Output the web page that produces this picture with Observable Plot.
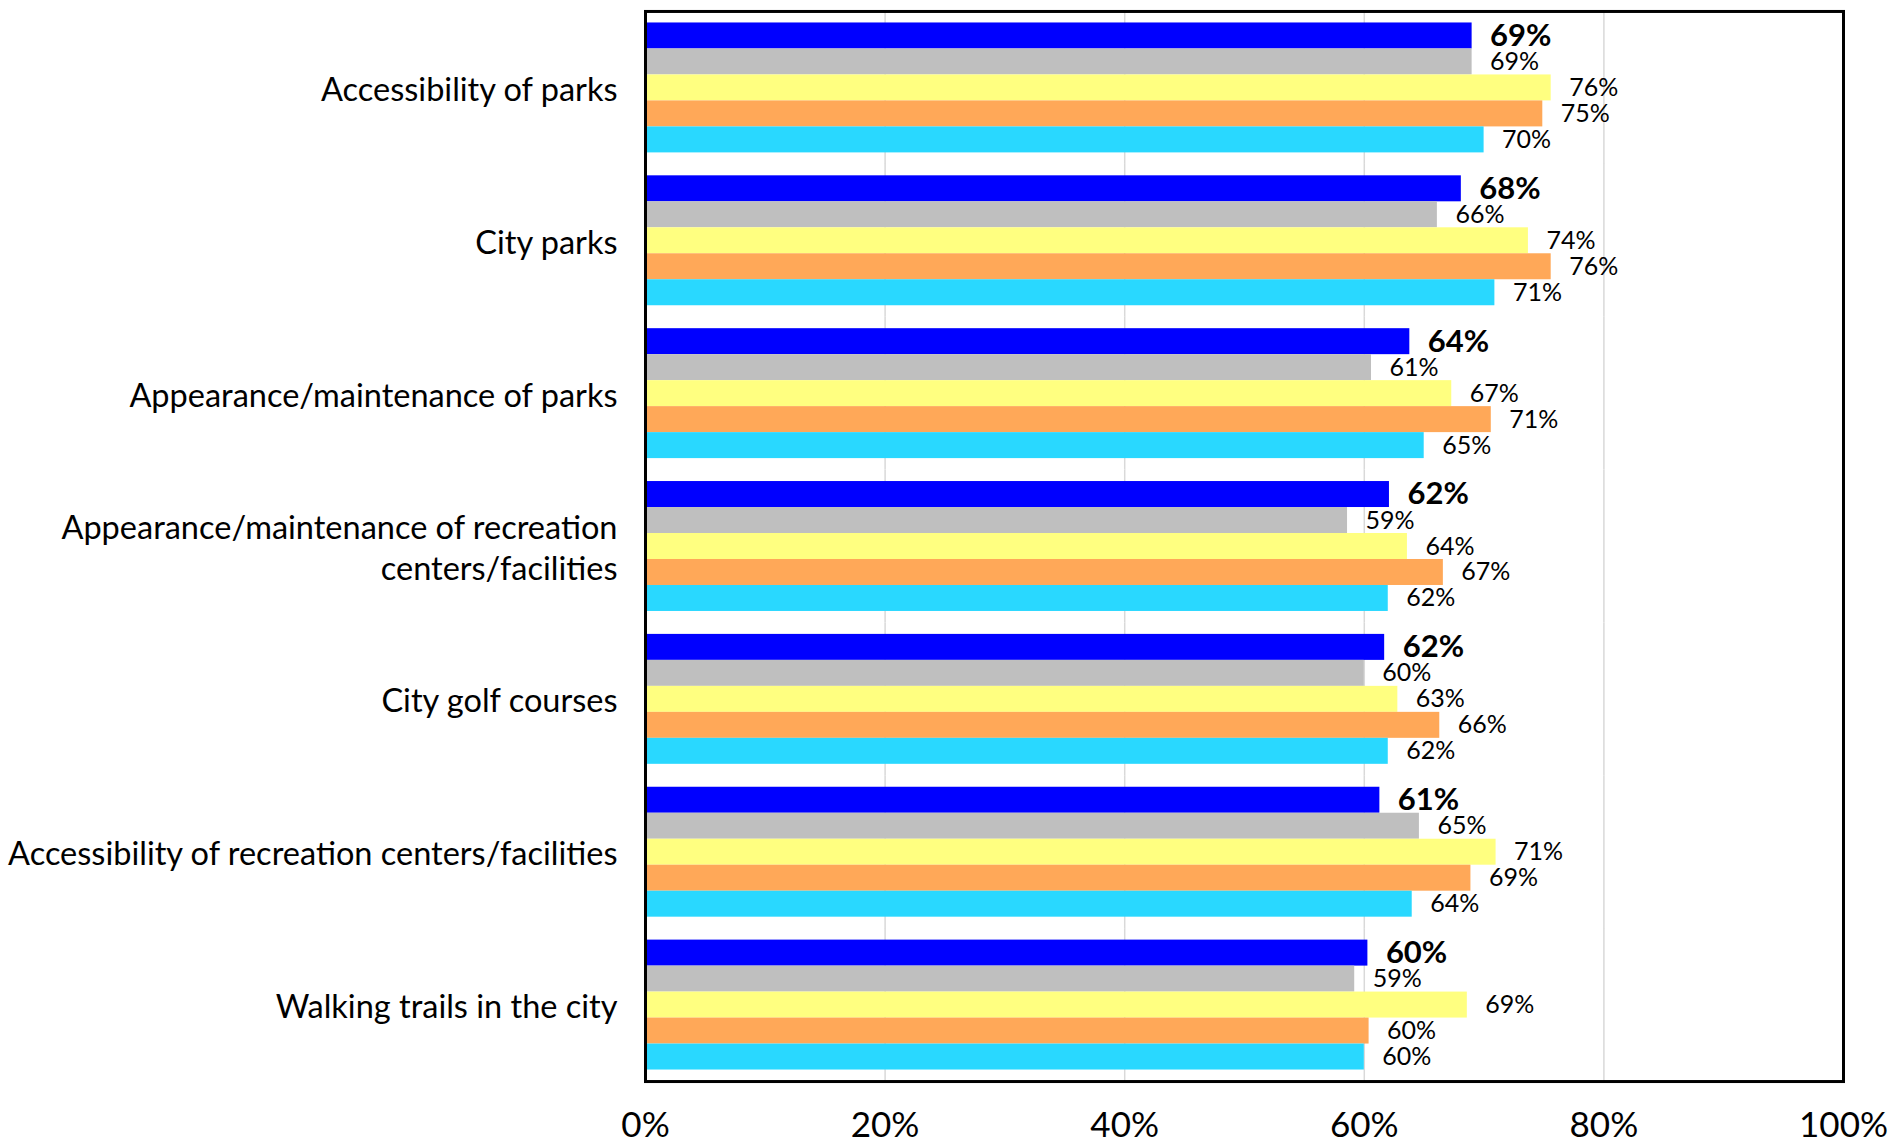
<!DOCTYPE html>
<html>
<head>
<meta charset="utf-8">
<script src="https://cdn.jsdelivr.net/npm/d3@7"></script>
<script src="https://cdn.jsdelivr.net/npm/@observablehq/plot@0.6"></script>
<style>
  html, body { margin: 0; padding: 0; background: #fff; }
  #chart svg { display: block; overflow: visible; }
</style>
</head>
<body>
<div id="chart"></div>
<script>
// Categories (top to bottom)
const categories = [
  "Accessibility of parks",
  "City parks",
  "Appearance/maintenance of parks",
  "Appearance/maintenance of recreation centers/facilities",
  "City golf courses",
  "Accessibility of recreation centers/facilities",
  "Walking trails in the city"
];
// Display text for category labels (line breaks as in the reference)
const categoryLabels = [
  "Accessibility of parks",
  "City parks",
  "Appearance/maintenance of parks",
  "Appearance/maintenance of recreation\ncenters/facilities",
  "City golf courses",
  "Accessibility of recreation centers/facilities",
  "Walking trails in the city"
];
// Series (top to bottom within each group)
const seriesNames = ["Series 1", "Series 2", "Series 3", "Series 4", "Series 5"];
const seriesColors = ["#0000ff", "#bfbfbf", "#ffff80", "#ffa858", "#29d8ff"];
// Values in percent, one array per series, in category order
const series1 = [69.0, 68.1, 63.8, 62.1, 61.7, 61.3, 60.3];
const series2 = [69.0, 66.1, 60.6, 58.6, 60.0, 64.6, 59.2];
const series3 = [75.6, 73.7, 67.3, 63.6, 62.8, 71.0, 68.6];
const series4 = [74.9, 75.6, 70.6, 66.6, 66.3, 68.9, 60.4];
const series5 = [70.0, 70.9, 65.0, 62.0, 62.0, 64.0, 60.0];
// X axis ticks
const xTicks = [0, 20, 40, 60, 80, 100];
const gridTicks = [20, 40, 60, 80];

const allSeries = [series1, series2, series3, series4, series5];
const data = [];
categories.forEach((c, i) => {
  seriesNames.forEach((s, j) => {
    data.push({category: c, series: s, value: allSeries[j][i] / 100});
  });
});
const labelOf = new Map(categories.map((c, i) => [c, categoryLabels[i]]));
const fmt = d => Math.round(d.value * 100) + "%";

const chart = Plot.plot({
  width: 1889,
  height: 1141,
  marginLeft: 645,
  marginRight: 46,
  marginTop: 11,
  marginBottom: 60,
  style: {fontFamily: "Lato, 'Open Sans', sans-serif", color: "#000", background: "#fff"},
  x: {domain: [0, 1], axis: null},
  y: {domain: seriesNames, padding: 0, round: false, axis: null},
  fy: {domain: categories, paddingInner: 0.15, paddingOuter: 0.075, round: false, axis: null},
  color: {domain: seriesNames, range: seriesColors},
  marks: [
    Plot.ruleX(gridTicks, {x: d => d / 100, stroke: "#d9d9d9", strokeWidth: 1.5, insetTop: -11.5, insetBottom: -11.5}),
    Plot.barX(data, {x: "value", y: "series", fy: "category", fill: "series"}),
    Plot.text(data.filter(d => d.series === seriesNames[0]), {
      x: "value", y: "series", fy: "category", text: fmt,
      textAnchor: "start", dx: 18, fontSize: 31, fontWeight: "bold", fill: "#000"
    }),
    Plot.text(data.filter(d => d.series !== seriesNames[0]), {
      x: "value", y: "series", fy: "category", text: fmt,
      textAnchor: "start", dx: 18, fontSize: 25, fill: "#000"
    }),
    Plot.text(categories, {
      fy: d => d, text: d => labelOf.get(d), frameAnchor: "left",
      textAnchor: "end", dx: -28, fontSize: 32.5, lineHeight: 1.26, fill: "#000"
    }),
    Plot.axisX({
      ticks: xTicks.map(d => d / 100), tickFormat: d => Math.round(d * 100) + "%",
      tickSize: 0, tickPadding: 42, fontSize: 35, anchor: "bottom", label: null
    }),
    Plot.frame({facet: "super", stroke: "#000", strokeWidth: 3, insetTop: -11.5, insetBottom: -11.5})
  ]
});
document.getElementById("chart").appendChild(chart);
</script>
</body>
</html>
